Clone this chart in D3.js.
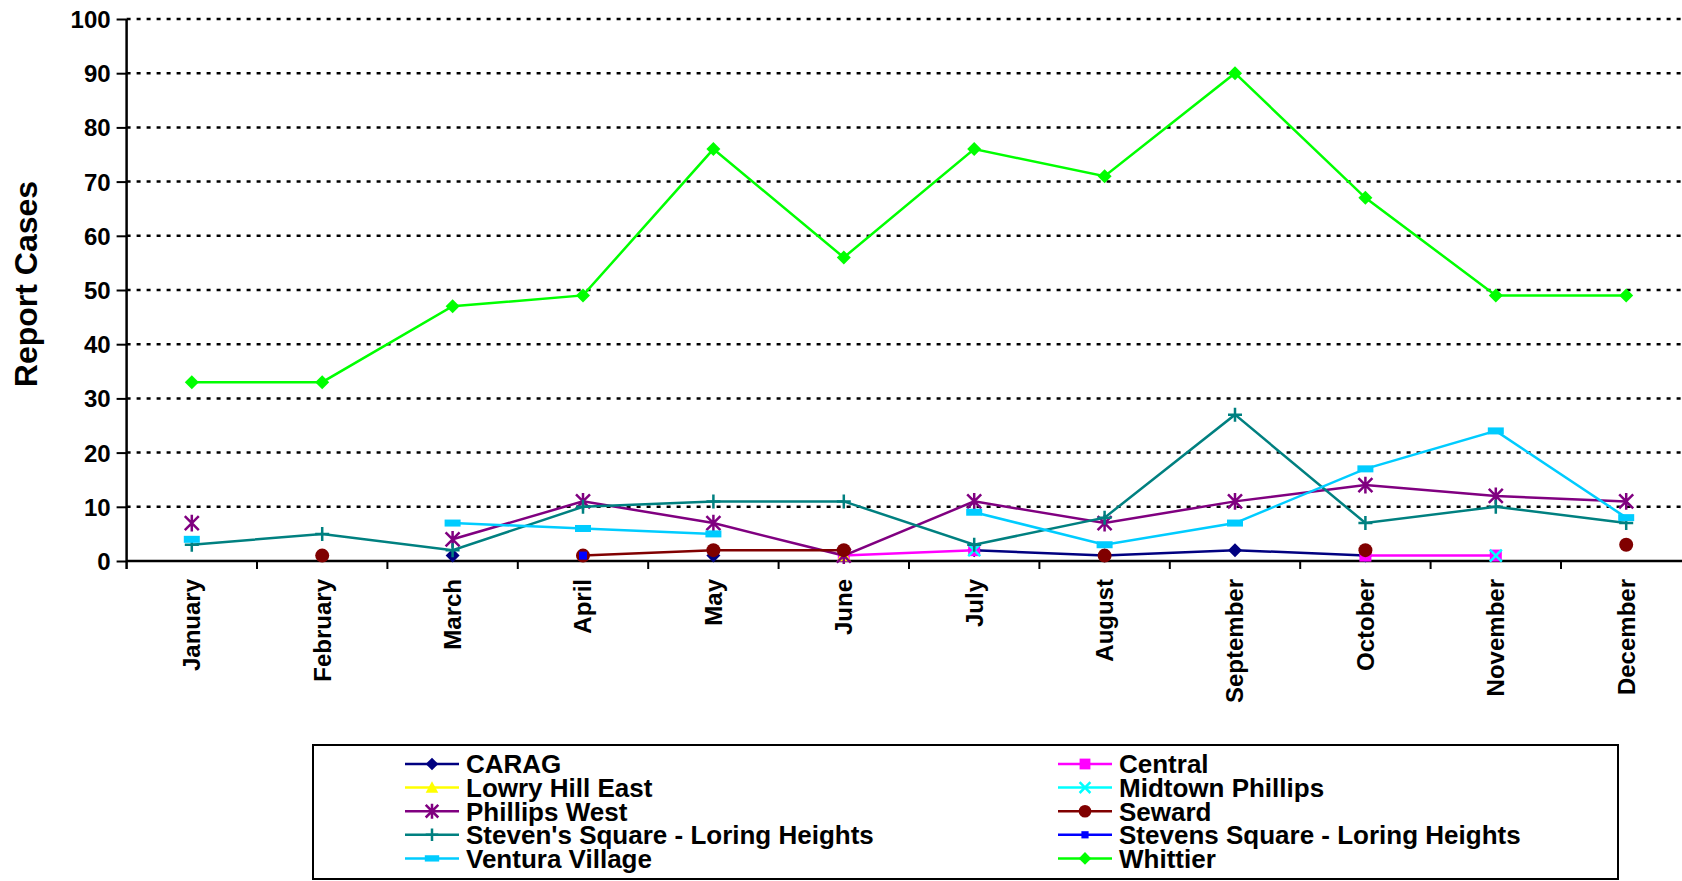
<!DOCTYPE html>
<html>
<head>
<meta charset="utf-8">
<script src="https://cdn.jsdelivr.net/npm/d3@7"></script>
<style>
  body { margin: 0; background: #fff; }
  svg text { font-family: "Liberation Sans", Arial, sans-serif; font-weight: bold; fill: #000; }
</style>
</head>
<body>
<main></main>
<script>
// month categories and tick values
const months = ["January", "February", "March", "April", "May", "June",
                "July", "August", "September", "October", "November", "December"];
const yTicks = [0, 10, 20, 30, 40, 50, 60, 70, 80, 90, 100];

// one array per neighbourhood, null = no report that month
const carag        = [null, null, 1, null, 1, null, 2, 1, 2, 1, null, null];
const central      = [null, null, null, null, null, 1, 2, null, null, 1, 1, null];
const lowryHill    = [null, null, null, null, null, 1, null, null, null, null, null, null];
const midtown      = [null, null, null, null, null, null, 2, null, null, null, 1, null];
const phillipsWest = [7, null, 4, 11, 7, 1, 11, 7, 11, 14, 12, 11];
const seward       = [null, 1, null, 1, 2, 2, null, 1, null, 2, null, 3];
const stevensA     = [3, 5, 2, 10, 11, 11, 3, 8, 27, 7, 10, 7];
const stevensB     = [null, null, null, 1, null, null, null, null, null, null, null, null];
const ventura      = [4, null, 7, 6, 5, null, 9, 3, 7, 17, 24, 8];
const whittier     = [33, 33, 47, 49, 76, 56, 76, 71, 90, 67, 49, 49];

const seriesNames = ["CARAG", "Central", "Lowry Hill East", "Midtown Phillips", "Phillips West",
                     "Seward", "Steven's Square - Loring Heights", "Stevens Square - Loring Heights",
                     "Ventura Village", "Whittier"];
const seriesValues = [carag, central, lowryHill, midtown, phillipsWest,
                      seward, stevensA, stevensB, ventura, whittier];
const seriesColors = ["#000080", "#ff00ff", "#ffff00", "#00ffff", "#800080",
                      "#800000", "#008080", "#0000ff", "#00ccff", "#00ff00"];
const seriesMarkers = ["diamond", "square", "triangle", "cross", "star",
                       "circle", "plus", "smallsquare", "bar", "diamond"];

const size = { width: 1682, height: 881 };
const plot = { left: 126.6, right: 1691.4, top: 19, bottom: 561 };

const svg = d3.select("main")
  .append("svg")
  .attr("width", size.width)
  .attr("height", size.height);

const x = d3.scaleBand().domain(months).range([plot.left, plot.right]).padding(0);
const y = d3.scaleLinear().domain([0, 100]).range([plot.bottom, plot.top]);
const cx = (m) => x(m) + x.bandwidth() / 2;

// dotted gridlines
svg.append("g")
  .selectAll("line")
  .data(yTicks.filter(d => d > 0))
  .enter()
  .append("line")
  .attr("x1", plot.left)
  .attr("x2", size.width)
  .attr("y1", d => y(d))
  .attr("y2", d => y(d))
  .attr("stroke", "#000")
  .attr("stroke-width", 2.5)
  .attr("stroke-dasharray", "4,6");

// y axis
const yAxis = svg.append("g")
  .attr("transform", `translate(${plot.left},0)`)
  .call(d3.axisLeft(y).tickValues(yTicks).tickSize(10).tickPadding(6));
yAxis.select(".domain").remove();
yAxis.selectAll(".tick line").attr("stroke", "#000").attr("stroke-width", 2);
yAxis.selectAll(".tick text").attr("font-size", 24).attr("dy", "0.35em");
svg.append("line")
  .attr("x1", plot.left).attr("x2", plot.left)
  .attr("y1", plot.top).attr("y2", plot.bottom + 8)
  .attr("stroke", "#000").attr("stroke-width", 2.5);

// x axis
svg.append("line")
  .attr("x1", plot.left).attr("x2", size.width)
  .attr("y1", plot.bottom).attr("y2", plot.bottom)
  .attr("stroke", "#000").attr("stroke-width", 2.5);
svg.append("g")
  .selectAll("line")
  .data(months.slice(1))
  .enter()
  .append("line")
  .attr("x1", d => x(d)).attr("x2", d => x(d))
  .attr("y1", plot.bottom).attr("y2", plot.bottom + 8)
  .attr("stroke", "#000").attr("stroke-width", 2);
svg.append("g")
  .selectAll("text")
  .data(months)
  .enter()
  .append("text")
  .attr("transform", d => `translate(${cx(d)},${plot.bottom + 18}) rotate(-90)`)
  .attr("text-anchor", "end")
  .attr("dy", "0.35em")
  .attr("font-size", 24)
  .text(d => d);

// y title
svg.append("text")
  .attr("transform", "translate(37,284) rotate(-90)")
  .attr("text-anchor", "middle")
  .attr("font-size", 32)
  .text("Report Cases");

// marker drawing
const drawMarker = (g, type, color, px, py, k = 1) => {
  if (type === "diamond") {
    const s = 7 * k;
    g.append("path").attr("d", `M${px},${py - s}L${px + s},${py}L${px},${py + s}L${px - s},${py}Z`).attr("fill", color);
  } else if (type === "square") {
    const s = 6 * k;
    g.append("rect").attr("x", px - s).attr("y", py - s).attr("width", 2 * s).attr("height", 2 * s).attr("fill", color);
  } else if (type === "smallsquare") {
    const s = 4 * k;
    g.append("rect").attr("x", px - s).attr("y", py - s).attr("width", 2 * s).attr("height", 2 * s).attr("fill", color);
  } else if (type === "bar") {
    g.append("rect").attr("x", px - 8 * k).attr("y", py - 3.5 * k).attr("width", 16 * k).attr("height", 7 * k).attr("fill", color);
  } else if (type === "triangle") {
    const s = 7 * k;
    g.append("path").attr("d", `M${px},${py - s}L${px + s},${py + s * 0.8}L${px - s},${py + s * 0.8}Z`).attr("fill", color);
  } else if (type === "circle") {
    g.append("circle").attr("cx", px).attr("cy", py).attr("r", 7 * k).attr("fill", color);
  } else if (type === "cross") {
    const s = 6 * k;
    g.append("path").attr("d", `M${px - s},${py - s}L${px + s},${py + s}M${px + s},${py - s}L${px - s},${py + s}`)
      .attr("stroke", color).attr("stroke-width", 2.5);
  } else if (type === "plus") {
    const s = 7 * k;
    g.append("path").attr("d", `M${px - s},${py}L${px + s},${py}M${px},${py - s}L${px},${py + s}`)
      .attr("stroke", color).attr("stroke-width", 2.5);
  } else if (type === "star") {
    const s = 7 * k;
    g.append("path").attr("d", `M${px - s},${py - s}L${px + s},${py + s}M${px + s},${py - s}L${px - s},${py + s}M${px},${py - s * 1.2}L${px},${py + s * 1.2}`)
      .attr("stroke", color).attr("stroke-width", 2.5);
  }
};

// series lines and markers
const line = d3.line()
  .defined(d => d.v !== null)
  .x(d => cx(d.m))
  .y(d => y(d.v));

seriesValues.forEach((vals, i) => {
  const pts = vals.map((v, j) => ({ m: months[j], v: v }));
  const g = svg.append("g");
  g.append("path")
    .datum(pts)
    .attr("d", line)
    .attr("fill", "none")
    .attr("stroke", seriesColors[i])
    .attr("stroke-width", 2.5);
  pts.filter(d => d.v !== null).forEach(d => {
    drawMarker(g, seriesMarkers[i], seriesColors[i], cx(d.m), y(d.v));
  });
});

// legend
const legend = svg.append("g");
legend.append("rect")
  .attr("x", 313).attr("y", 745)
  .attr("width", 1305).attr("height", 134)
  .attr("fill", "#fff")
  .attr("stroke", "#000")
  .attr("stroke-width", 2);

seriesNames.forEach((name, i) => {
  const col = i % 2;
  const row = Math.floor(i / 2);
  const lx = col === 0 ? 405 : 1058;
  const ly = 764 + row * 23.6;
  legend.append("line")
    .attr("x1", lx).attr("x2", lx + 54)
    .attr("y1", ly).attr("y2", ly)
    .attr("stroke", seriesColors[i])
    .attr("stroke-width", 2.5);
  drawMarker(legend, seriesMarkers[i], seriesColors[i], lx + 27, ly, 0.9);
  legend.append("text")
    .attr("x", lx + 61)
    .attr("y", ly)
    .attr("dy", "0.36em")
    .attr("font-size", 26)
    .text(name);
});
</script>
</body>
</html>
